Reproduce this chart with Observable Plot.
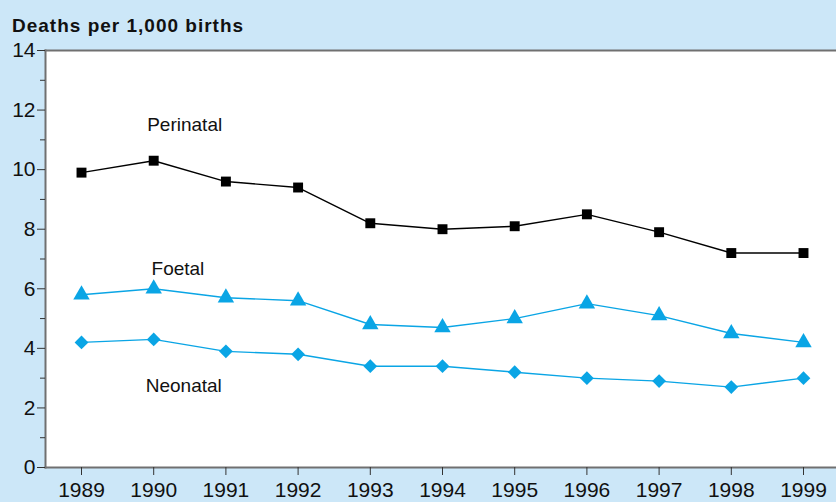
<!DOCTYPE html>
<html>
<head>
<meta charset="utf-8">
<script src="https://cdn.jsdelivr.net/npm/d3@7"></script>
<script src="https://cdn.jsdelivr.net/npm/@observablehq/plot@0.6"></script>
<style>
  html, body { margin: 0; padding: 0; background: #cce7f8; overflow: hidden; }
  #chart svg { display: block; }
</style>
</head>
<body>
<div id="chart"></div>
<script>
const years = [1989, 1990, 1991, 1992, 1993, 1994, 1995, 1996, 1997, 1998, 1999];
const perinatal = [9.9, 10.3, 9.6, 9.4, 8.2, 8.0, 8.1, 8.5, 7.9, 7.2, 7.2];
const foetal = [5.8, 6.0, 5.7, 5.6, 4.8, 4.7, 5.0, 5.5, 5.1, 4.5, 4.2];
const neonatal = [4.2, 4.3, 3.9, 3.8, 3.4, 3.4, 3.2, 3.0, 2.9, 2.7, 3.0];
const yMajorTicks = [0, 2, 4, 6, 8, 10, 12, 14];
const yMinorTicks = [1, 3, 5, 7, 9, 11, 13];
const seriesLabels = ["Perinatal", "Foetal", "Neonatal"];
const labelYears = [1989.91, 1989.97, 1989.89];
const labelValues = [11.5, 6.68, 2.75];
const titleText = "Deaths per 1,000 births";

const BLUE = "#0aa5e5";
const FONT = "'Liberation Sans', Arial, Helvetica, sans-serif";

const rows = (vals) => years.map((y, i) => ({year: y, value: vals[i]}));
const P = rows(perinatal), F = rows(foetal), N = rows(neonatal);
const labels = seriesLabels.map((name, i) => ({name, year: labelYears[i], value: labelValues[i]}));

const chart = Plot.plot({
  width: 836,
  height: 502,
  marginLeft: 45,
  marginRight: 0,
  marginTop: 50,
  marginBottom: 35,
  style: {background: "#cce7f8", fontFamily: FONT, overflow: "visible"},
  x: {domain: [1989, 1999], range: [81, 803]},
  y: {domain: [0, 14], range: [467, 50]},
  marks: [
    Plot.frame({fill: "white", stroke: null}),
    Plot.frame({anchor: "top", stroke: "#707070", strokeWidth: 2}),
    Plot.frame({anchor: "left", stroke: "#707070", strokeWidth: 2}),
    Plot.frame({anchor: "bottom", stroke: "#707070", strokeWidth: 2}),
    Plot.axisY({ticks: yMajorTicks, tickSize: 8, tickPadding: 2, fontSize: 21, stroke: "#333", fill: "#111", tickFormat: d => String(d), label: null}),
    Plot.axisY({ticks: yMinorTicks, tickSize: 5, text: null, stroke: "#333", label: null}),
    Plot.axisX({ticks: years, tickSize: 8, tickPadding: 7, fontSize: 21, stroke: "#333", fill: "#111", tickFormat: d => String(d), label: null}),
    Plot.line(P, {x: "year", y: "value", stroke: "black", strokeWidth: 1.4}),
    Plot.line(F, {x: "year", y: "value", stroke: BLUE, strokeWidth: 1.4}),
    Plot.line(N, {x: "year", y: "value", stroke: BLUE, strokeWidth: 1.4}),
    Plot.dot(P, {x: "year", y: "value", symbol: "square", r: 5.6, fill: "black", stroke: null}),
    Plot.dot(F, {x: "year", y: "value", symbol: "triangle", r: 6.1, fill: BLUE, stroke: null}),
    Plot.dot(N, {x: "year", y: "value", symbol: "diamond2", r: 6.2, fill: BLUE, stroke: null}),
    Plot.text(labels, {x: "year", y: "value", text: "name", textAnchor: "start", fontSize: 19, fill: "#111"})
  ]
});

d3.select(chart).append("text")
  .attr("x", 12).attr("y", 32)
  .attr("text-anchor", "start")
  .attr("fill", "#111")
  .style("font-family", FONT)
  .style("font-size", "19px")
  .style("font-weight", "bold")
  .style("letter-spacing", "1px")
  .text(titleText);

document.getElementById("chart").append(chart);
</script>
</body>
</html>
